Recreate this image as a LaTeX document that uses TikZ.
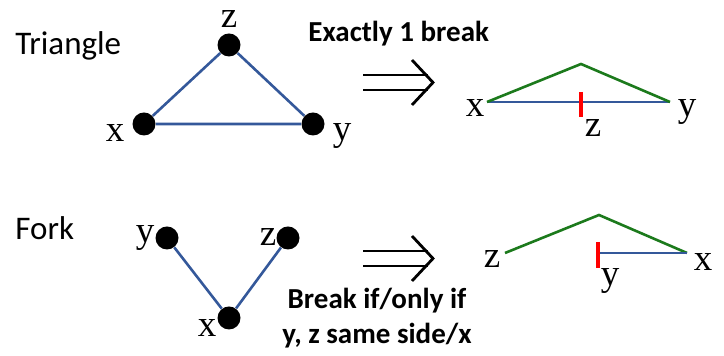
\documentclass[tikz,border=0pt]{standalone}
\usepackage{fontspec}
\setmainfont{Liberation Serif}
\newfontfamily\calfont{Carlito}
\definecolor{edgeblue}{HTML}{34589A}
\definecolor{foldgreen}{HTML}{1C7A1C}
\definecolor{tickred}{HTML}{FF0000}

\tikzset{
  vertex/.style={circle, fill=black, inner sep=0pt, minimum size=11.5pt},
  letter/.style={inner sep=0pt, font=\fontsize{18.5}{20}\selectfont},
  title/.style={inner sep=0pt, anchor=base west, font=\calfont\fontsize{16.5}{20}\selectfont},
  rule/.style={inner sep=0pt, align=center, font=\calfont\bfseries\fontsize{14.5}{17.5}\selectfont},
  tree/.style={edgeblue, line width=1.3pt},
  fold/.style={foldgreen, line width=1.3pt},
  breakmark/.style={tickred, line width=2.2pt},
  implies/.style={black, line width=1.4pt}
}

\begin{document}
\begin{tikzpicture}[x=0.5pt,y=-0.5pt]
      \useasboundingbox (0,0) rectangle (724,356);

      % triangle
      \node[title] (tri) at (15,55) {Triangle};
      \node[vertex] (tz) at (229,45) {};
      \node[vertex] (tx) at (144,124) {};
      \node[vertex] (ty) at (313,124) {};
      \draw[tree] (tx) -- (tz) -- (ty) -- (tx);
      \node[letter] (tzl) at (229,19) {z};
      \node[letter] (txl) at (115,133) {x};
      \node[letter] (tyl) at (342,136) {y};

      \node[rule, anchor=base west] (exact) at (308,42) {Exactly 1 break};
      \draw[implies] (363,75) -- (428,75);
      \draw[implies] (363,90) -- (428,90);
      \draw[implies] (412,60) -- (433,82.5) -- (412,105);

      \coordinate (ax) at (487,102);
      \coordinate (ay) at (670,102);
      \coordinate (atop) at (581,64);
      \coordinate (ahi) at (581,92);
      \coordinate (alo) at (581,117);
      \draw[tree] (ax) -- (ay);
      \draw[fold] (ax) -- (atop) -- (ay);
      \draw[breakmark] (ahi) -- (alo);
      \node[letter] (axl) at (475,108) {x};
      \node[letter] (ayl) at (687,112) {y};
      \node[letter] (azl) at (593,128) {z};

      % fork
      \node[title] (fork) at (15,240) {Fork};
      \node[vertex] (fy) at (167,238) {};
      \node[vertex] (fz) at (288,238) {};
      \node[vertex] (fx) at (229,318) {};
      \draw[tree] (fy) -- (fx) -- (fz);
      \node[letter] (fyl) at (145,238) {y};
      \node[letter] (fzl) at (268,237) {z};
      \node[letter] (fxl) at (207,328) {x};

      \draw[implies] (363,251) -- (428,251);
      \draw[implies] (363,266) -- (428,266);
      \draw[implies] (412,236) -- (433,258.5) -- (412,281);
      \node[rule] (iff) at (377,318) {Break if/only if\\y, z same side/x};

      \coordinate (bz) at (505,253);
      \coordinate (bx) at (687,253);
      \coordinate (btop) at (599,215);
      \coordinate (by) at (599,253);
      \coordinate (bhi) at (598,242);
      \coordinate (blo) at (598,268);
      \draw[fold] (bz) -- (btop) -- (bx);
      \draw[tree] (by) -- (bx);
      \draw[breakmark] (bhi) -- (blo);
      \node[letter] (bzl) at (492,259) {z};
      \node[letter] (byl) at (610,281) {y};
      \node[letter] (bxl) at (703,262) {x};
\end{tikzpicture}
\end{document}
